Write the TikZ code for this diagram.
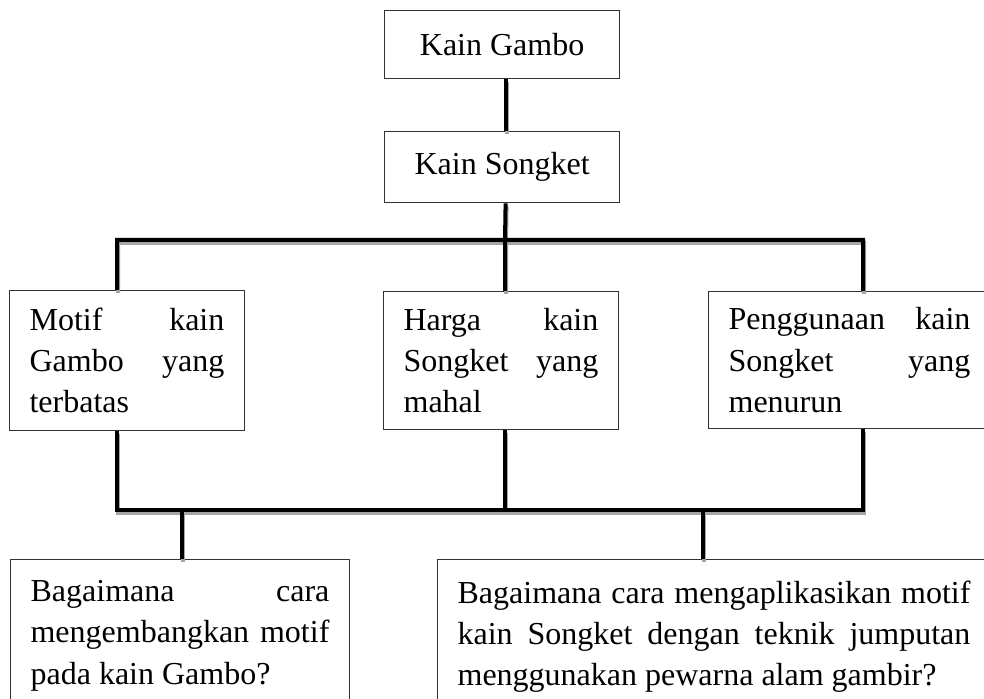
\documentclass[tikz,border=0pt]{standalone}
\usepackage{fontspec}
\setmainfont{Liberation Serif}
\usepackage{tikz}
\hyphenpenalty=10000

\begin{document}
\begin{tikzpicture}[x=0.5pt,y=-0.5pt,
  kotak/.style={draw=black!80, line width=0.6pt, rectangle, anchor=north west,
    inner xsep=10pt, inner ysep=10.5pt, font=\fontsize{16}{20.6}\selectfont},
  isi/.style={kotak, align=justify, text width=#1},
  link/.style={line width=2pt, preaction={draw=black!35, line width=2pt,
    transform canvas={xshift=0.5pt,yshift=-1.5pt}}}]

\useasboundingbox (0,0) rectangle (984,699);
\clip (0,0) rectangle (984,699);

\node[kotak, minimum width=117.5pt, minimum height=34pt] (gambo) at (384,10) {Kain Gambo};
\node[kotak, minimum width=117.5pt, minimum height=33.5pt] (songket) at (384,131) {Kain Songket};

\node[isi=97.4pt, inner ysep=5pt, minimum height=70pt] (motif) at (9,290) {Motif kain\linebreak Gambo yang\linebreak terbatas};
\node[isi=97.4pt, inner ysep=5pt, minimum height=69pt] (harga) at (383,291) {Harga kain\linebreak Songket yang\linebreak mahal};
\node[isi=120.9pt, inner ysep=5pt, minimum height=68.5pt] (pakai) at (708,291) {Penggunaan kain\linebreak Songket yang\linebreak menurun};

\node[isi=149.4pt] (tanya1) at (10,559) {Bagaimana cara\linebreak mengembangkan motif\linebreak pada kain Gambo?};
\node[isi=256.4pt] (tanya2) at (437,559) {Bagaimana cara mengaplikasikan motif\linebreak kain Songket dengan teknik jumputan\linebreak menggunakan pewarna alam gambir?};

\coordinate (busA) at (505,240);
\coordinate (busB) at (505,510);
\coordinate (t1) at ([xshift=1pt]tanya1.north);
\coordinate (t2) at ([xshift=-5.5pt]tanya2.north);

\draw[link] ([xshift=1.75pt]gambo.south) -- ([xshift=1.75pt]songket.north);

\draw[link] ([xshift=1.75pt]songket.south) -- (busA)
  ([xshift=-5pt]motif.north) |- (busA) -| ([xshift=6.75pt]pakai.north)
  (busA) -- ([xshift=2pt]harga.north);

\draw[link] ([xshift=-5pt]motif.south) |- (busB) -| ([xshift=6.75pt]pakai.south)
  ([xshift=2pt]harga.south) -- (busB)
  (t1 |- busB) -- (t1)
  (t2 |- busB) -- (t2);

\end{tikzpicture}
\end{document}
